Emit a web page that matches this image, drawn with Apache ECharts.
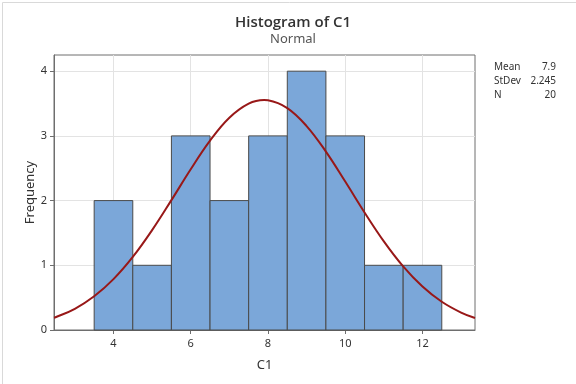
<!DOCTYPE html>
<html><head><meta charset="utf-8">
<script src="https://cdn.jsdelivr.net/npm/echarts@6/dist/echarts.min.js"></script>
<style>html,body{margin:0;padding:0;background:#fff}#c{width:576px;height:384px}</style>
</head><body><div id="c"></div>
<script>
// Histogram bins (center value) and counts
var binCenters = [4, 5, 6, 7, 8, 9, 10, 11, 12];
var binCounts  = [2, 1, 3, 2, 3, 4, 3, 1, 1];
var binWidth = 1;
// Fitted normal curve (x, frequency)
var curveX = [2.46, 2.5, 3, 3.5, 4, 4.5, 5, 5.5, 6, 6.5, 7, 7.5, 7.9, 8, 8.5, 9, 9.5, 10, 10.5, 11, 11.5, 12, 12.5, 13, 13.36];
var curveY = [0.189, 0.197, 0.328, 0.521, 0.786, 1.129, 1.543, 2.007, 2.484, 2.926, 3.280, 3.498, 3.554, 3.550, 3.429, 3.152, 2.757, 2.294, 1.817, 1.370, 0.983, 0.671, 0.436, 0.269, 0.185];
var xTicks = [4, 6, 8, 10, 12];
var yTicks = [0, 1, 2, 3, 4];
var statLabels = ['Mean', 'StDev', 'N'];
var statValues = ['7.9', '2.245', '20'];

var FONT = 'Noto Sans';
var chart = echarts.init(document.getElementById('c'), null, {renderer: 'canvas'});

var histData = binCenters.map(function (c, i) { return [c - binWidth / 2, c + binWidth / 2, binCounts[i]]; });
var curveData = curveX.map(function (x, i) { return [x, curveY[i]]; });

var graphics = [{
  type: 'rect', left: 0, top: 0, silent: true,
  shape: {x: 0.5, y: 0.5, width: 575, height: 383},
  style: {fill: 'none', stroke: '#d9d9d9', lineWidth: 1}
}];
statLabels.forEach(function (l, i) {
  graphics.push({type: 'text', left: 494, top: 62.5 + i * 14, style: {text: l, font: '10px ' + FONT, fill: '#333'}});
  graphics.push({type: 'text', right: 20, top: 62.5 + i * 14, style: {text: statValues[i], font: '10px ' + FONT, fill: '#333', textAlign: 'right'}});
});

chart.setOption({
  animation: false,
  textStyle: {fontFamily: FONT},
  title: {
    text: 'Histogram of C1', subtext: 'Normal',
    left: 288, top: 10, textAlign: 'center', itemGap: 3,
    textStyle: {fontFamily: 'Open Sans', fontSize: 15, fontWeight: 600, color: '#333'},
    subtextStyle: {fontFamily: FONT, fontSize: 13, color: '#555'}
  },
  graphic: graphics,
  grid: {left: 54, top: 55, right: 101, bottom: 54, show: true, borderColor: '#6e6e6e', borderWidth: 1, backgroundColor: 'transparent'},
  xAxis: {
    type: 'value', min: 2.46, max: 13.36,
    name: 'C1', nameLocation: 'middle', nameGap: 29, nameMoveOverlap: false,
    nameTextStyle: {fontFamily: FONT, fontSize: 13, color: '#333'},
    axisLine: {show: true, onZero: false, lineStyle: {color: '#6e6e6e'}},
    axisTick: {show: true, customValues: xTicks, length: 4, lineStyle: {color: '#6e6e6e'}},
    axisLabel: {customValues: xTicks, color: '#333', fontSize: 11, margin: 8},
    splitLine: {show: false}
  },
  yAxis: {
    type: 'value', min: 0, max: 4.25, interval: 1,
    name: 'Frequency', nameLocation: 'middle', nameGap: 17, nameMoveOverlap: false,
    nameTextStyle: {fontFamily: FONT, fontSize: 13, color: '#333'},
    axisLine: {show: true, lineStyle: {color: '#6e6e6e'}},
    axisTick: {show: true, customValues: yTicks, length: 4, lineStyle: {color: '#6e6e6e'}},
    axisLabel: {customValues: yTicks, color: '#333', fontSize: 11, margin: 7},
    splitLine: {show: true, lineStyle: {color: '#e3e3e3'}}
  },
  series: [{
    type: 'custom',
    data: histData,
    encode: {x: [0, 1], y: 2},
    renderItem: function (params, api) {
      var p0 = api.coord([api.value(0), api.value(2)]);
      var p1 = api.coord([api.value(1), 0]);
      return {
        type: 'rect',
        shape: {x: p0[0], y: p0[1], width: p1[0] - p0[0], height: p1[1] - p0[1]},
        style: {fill: '#7ba7d9', stroke: '#4a4a4a', lineWidth: 1}
      };
    },
    markLine: {
      silent: true, symbol: 'none', label: {show: false},
      lineStyle: {color: '#e3e3e3', type: 'solid', width: 1},
      data: xTicks.map(function (v) { return {xAxis: v}; }),
      z: 0
    },
    z: 2
  }, {
    type: 'line',
    data: curveData,
    smooth: 0.4,
    symbol: 'none',
    lineStyle: {color: '#981818', width: 2},
    z: 3
  }]
});
</script></body></html>
